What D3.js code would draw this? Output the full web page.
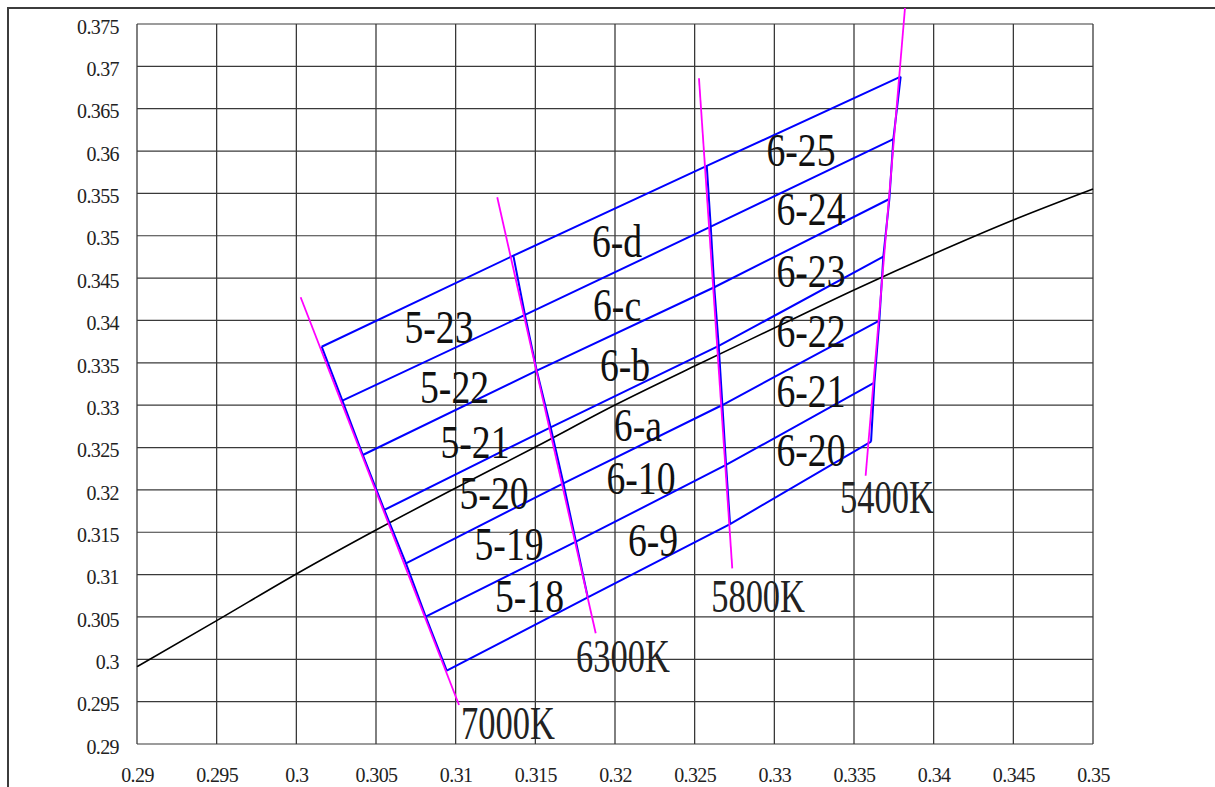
<!DOCTYPE html>
<html>
<head>
<meta charset="utf-8">
<script src="https://cdn.jsdelivr.net/npm/d3@7"></script>
<style>
  body { margin: 0; background: #fff; }
  svg { display: block; }
</style>
</head>
<body>
<script>
//size of the page
var w = 1215;
var h = 787;

//tick values and their labels
var xTicks = [0.29, 0.295, 0.3, 0.305, 0.31, 0.315, 0.32, 0.325, 0.33, 0.335, 0.34, 0.345, 0.35];
var xTickLabels = ["0.29", "0.295", "0.3", "0.305", "0.31", "0.315", "0.32", "0.325", "0.33", "0.335", "0.34", "0.345", "0.35"];
var yTicks = [0.29, 0.295, 0.3, 0.305, 0.31, 0.315, 0.32, 0.325, 0.33, 0.335, 0.34, 0.345, 0.35, 0.355, 0.36, 0.365, 0.37, 0.375];
var yTickLabels = ["0.29", "0.295", "0.3", "0.305", "0.31", "0.315", "0.32", "0.325", "0.33", "0.335", "0.34", "0.345", "0.35", "0.355", "0.36", "0.365", "0.37", "0.375"];

//black body locus (cx, cy)
var locusX = [0.29, 0.295, 0.3, 0.305, 0.31, 0.315, 0.32, 0.325, 0.33, 0.335, 0.34, 0.345, 0.35];
var locusY = [0.29913, 0.30456, 0.31007, 0.31526, 0.32022, 0.32506, 0.33002, 0.33462, 0.33911, 0.34360, 0.34785, 0.35186, 0.35552];

//bin corners along each cct edge, bottom to top
var edge7000K = [[0.30944, 0.29865], [0.30812, 0.30503], [0.30688, 0.31133], [0.30552, 0.31763], [0.30417, 0.32412], [0.30289, 0.33053], [0.30159, 0.33690]];
var edge6300K = [[0.31829, 0.30732], [0.31755, 0.31388], [0.31676, 0.32078], [0.31596, 0.32739], [0.31509, 0.33407], [0.31435, 0.34065], [0.31362, 0.34765]];
var edge5800K = [[0.32722, 0.31597], [0.32697, 0.32294], [0.32674, 0.33002], [0.32651, 0.33699], [0.32623, 0.34392], [0.32601, 0.35107], [0.32576, 0.35824]];
var edge5400K = [[0.33607, 0.32569], [0.33628, 0.33265], [0.33659, 0.33997], [0.33684, 0.34753], [0.33722, 0.35434], [0.33747, 0.36142], [0.33793, 0.36878]];

//isotherm lines (magenta)
var isoNames = ["7000K", "6300K", "5800K", "5400K"];
var isoTop = [[0.30027, 0.34274], [0.31261, 0.35454], [0.32527, 0.36859], [0.33820, 0.37689]];
var isoBottom = [[0.31021, 0.29460], [0.31879, 0.30307], [0.32736, 0.31074], [0.33573, 0.32167]];
var isoLabelPos = [[0.31328, 0.29059], [0.32050, 0.29854], [0.32898, 0.30558], [0.33707, 0.31724]];

//bin names and where they sit
var binNames = ["5-23", "5-22", "5-21", "5-20", "5-19", "5-18",
                "6-d", "6-c", "6-b", "6-a", "6-10", "6-9",
                "6-25", "6-24", "6-23", "6-22", "6-21", "6-20"];
var binLabelX = [0.30895, 0.30993, 0.31121, 0.31241, 0.31335, 0.31463,
                 0.32013, 0.32013, 0.32063, 0.32144, 0.32163, 0.32239,
                 0.33167, 0.33230, 0.33230, 0.33230, 0.33230, 0.33230];
var binLabelY = [0.33738, 0.33026, 0.32376, 0.31774, 0.31172, 0.30562,
                 0.34749, 0.33994, 0.33285, 0.32577, 0.31951, 0.31219,
                 0.35824, 0.35127, 0.34395, 0.33687, 0.32978, 0.32282];

var serif = "'Liberation Serif', 'Times New Roman', serif";

//scales
var x = d3.scaleLinear().domain([0.29, 0.35]).range([137, 1093]);
var y = d3.scaleLinear().domain([0.29, 0.375]).range([744, 24]);

var svg = d3.select("body")
            .append("svg")
            .attr("width", w)
            .attr("height", h);

//outer frame (top and left only visible)
svg.append("path")
   .attr("d", "M8," + h + "V8H" + w)
   .attr("fill", "none")
   .attr("stroke", "#3c3c3c")
   .attr("stroke-width", 2);

//grid
svg.append("g").selectAll("line")
   .data(xTicks)
   .enter()
   .append("line")
   .attr("x1", function(d) { return x(d); })
   .attr("x2", function(d) { return x(d); })
   .attr("y1", y(0.29))
   .attr("y2", y(0.375))
   .attr("stroke", "#2a2a2a")
   .attr("stroke-width", 1.2);

svg.append("g").selectAll("line")
   .data(yTicks)
   .enter()
   .append("line")
   .attr("x1", x(0.29))
   .attr("x2", x(0.35))
   .attr("y1", function(d) { return y(d); })
   .attr("y2", function(d) { return y(d); })
   .attr("stroke", "#3a3a3a")
   .attr("stroke-width", 1.2);

//axes, labels only
var yAxis = d3.axisLeft(y)
              .tickValues(yTicks)
              .tickSize(0)
              .tickPadding(18)
              .tickFormat(function(d, i) { return yTickLabels[i]; });
var gy = svg.append("g").attr("transform", "translate(" + x(0.29) + ",0)").call(yAxis);

var xAxis = d3.axisBottom(x)
              .tickValues(xTicks)
              .tickSize(0)
              .tickPadding(24)
              .tickFormat(function(d, i) { return xTickLabels[i]; });
var gx = svg.append("g").attr("transform", "translate(0," + y(0.29) + ")").call(xAxis);

[gx, gy].forEach(function(g) {
    g.select(".domain").remove();
    g.selectAll("text")
     .attr("font-family", serif)
     .attr("font-size", 20)
     .attr("letter-spacing", "-0.6px")
     .attr("fill", "#222");
});
gy.selectAll("text").attr("dy", "0.46em");

//black body curve
var locus = locusX.map(function(d, i) { return [d, locusY[i]]; });
var line = d3.line()
             .x(function(d) { return x(d[0]); })
             .y(function(d) { return y(d[1]); })
             .curve(d3.curveMonotoneX);

svg.append("path")
   .attr("d", line(locus))
   .attr("fill", "none")
   .attr("stroke", "#000")
   .attr("stroke-width", 1.6);

//blue bin grid: rows across, then the cct edges
var edges = [edge7000K, edge6300K, edge5800K, edge5400K];
var rows = d3.range(edge7000K.length).map(function(k) {
    return edges.map(function(e) { return e[k]; });
});
var straight = d3.line()
                 .x(function(d) { return x(d[0]); })
                 .y(function(d) { return y(d[1]); });

svg.append("g").selectAll("path")
   .data(rows.concat(edges))
   .enter()
   .append("path")
   .attr("d", straight)
   .attr("fill", "none")
   .attr("stroke", "#0000ff")
   .attr("stroke-width", 2);

//magenta isotherms
svg.append("g").selectAll("line")
   .data(isoNames)
   .enter()
   .append("line")
   .attr("x1", function(d, i) { return x(isoTop[i][0]); })
   .attr("y1", function(d, i) { return y(isoTop[i][1]); })
   .attr("x2", function(d, i) { return x(isoBottom[i][0]); })
   .attr("y2", function(d, i) { return y(isoBottom[i][1]); })
   .attr("stroke", "#ff00ff")
   .attr("stroke-width", 1.8);

//bin labels
svg.append("g").selectAll("text")
   .data(binNames)
   .enter()
   .append("text")
   .attr("transform", function(d, i) {
       return "translate(" + x(binLabelX[i]) + "," + y(binLabelY[i]) + ") scale(0.82,1)";
   })
   .attr("text-anchor", "middle")
   .attr("font-family", serif)
   .attr("font-size", 46)
   .attr("fill", "#111")
   .text(function(d) { return d; });

//cct labels
svg.append("g").selectAll("text")
   .data(isoNames)
   .enter()
   .append("text")
   .attr("transform", function(d, i) {
       return "translate(" + x(isoLabelPos[i][0]) + "," + y(isoLabelPos[i][1]) + ") scale(0.75,1)";
   })
   .attr("text-anchor", "middle")
   .attr("font-family", serif)
   .attr("font-size", 46)
   .attr("fill", "#222")
   .text(function(d) { return d; });
</script>
</body>
</html>
